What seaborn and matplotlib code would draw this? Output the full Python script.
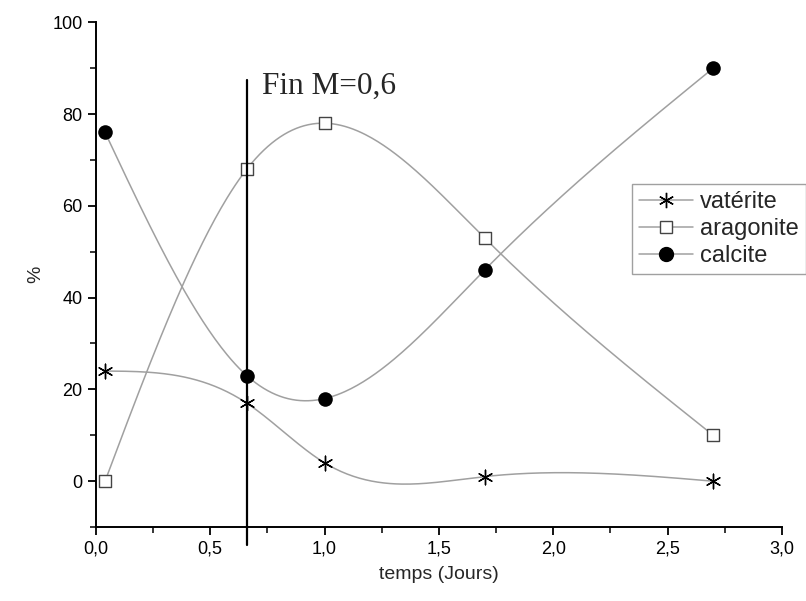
import numpy as np
import pandas as pd
import seaborn as sns
import matplotlib
matplotlib.use("Agg")
import matplotlib.pyplot as plt
from matplotlib.lines import Line2D
from matplotlib.ticker import MultipleLocator, FuncFormatter

# données
temps = [0.04, 0.66, 1.0, 1.7, 2.7]
vaterite = [24, 17, 4, 1, 0]
aragonite = [0, 68, 78, 53, 10]
calcite = [76, 23, 18, 46, 90]

fin_x = 0.66
fin_label = "Fin M=0,6"


def spline_naturelle(x, y, n=300):
    # spline cubique naturelle (comme la connexion "spline" d'Origin)
    x = np.asarray(x, float)
    y = np.asarray(y, float)
    k = len(x)
    h = np.diff(x)
    A = np.zeros((k, k))
    b = np.zeros(k)
    A[0, 0] = A[-1, -1] = 1
    for i in range(1, k - 1):
        A[i, i - 1] = h[i - 1]
        A[i, i] = 2 * (h[i - 1] + h[i])
        A[i, i + 1] = h[i]
        b[i] = 6 * ((y[i + 1] - y[i]) / h[i] - (y[i] - y[i - 1]) / h[i - 1])
    M = np.linalg.solve(A, b)
    xs = np.linspace(x[0], x[-1], n)
    idx = np.clip(np.searchsorted(x, xs) - 1, 0, k - 2)
    x0, x1 = x[idx], x[idx + 1]
    hh = x1 - x0
    ys = (M[idx] * (x1 - xs) ** 3 / (6 * hh) + M[idx + 1] * (xs - x0) ** 3 / (6 * hh)
          + (y[idx] / hh - M[idx] * hh / 6) * (x1 - xs)
          + (y[idx + 1] / hh - M[idx + 1] * hh / 6) * (xs - x0))
    return xs, ys


sns.set_theme(style="ticks")
plt.rcParams['font.family'] = ['Liberation Sans', 'DejaVu Sans']

fig = plt.figure(figsize=(8.06, 6.01), dpi=100)
ax = fig.add_axes([0.119, 0.123, 0.851, 0.840])

series = {"vatérite": vaterite, "aragonite": aragonite, "calcite": calcite}
styles = {
    "vatérite": dict(marker=(6, 2, 0), s=110, color="black", linewidth=1.0),
    "aragonite": dict(marker="s", s=75, facecolor="white", edgecolor="#444444", linewidth=1.0),
    "calcite": dict(marker="o", s=110, color="black", linewidth=0),
}

for nom, vals in series.items():
    xs, ys = spline_naturelle(temps, vals)
    sns.lineplot(x=xs, y=ys, ax=ax, color="#a0a0a0", linewidth=1.1, zorder=2)
    df = pd.DataFrame({"temps": temps, "pct": vals})
    sns.scatterplot(data=df, x="temps", y="pct", ax=ax, zorder=3, **styles[nom])

# ligne verticale "Fin M=0,6"
ax.plot([fin_x, fin_x], [-13.8, 87.5], color="black", linewidth=1.6, clip_on=False, zorder=4)
ax.text(fin_x + 0.065, 84.5, fin_label, fontsize=22.5, family=['Liberation Serif', 'DejaVu Serif'],
        ha="left", va="baseline")

ax.set_xlim(0, 3.0)
ax.set_ylim(-10, 100)
ax.xaxis.set_major_locator(MultipleLocator(0.5))
ax.xaxis.set_minor_locator(MultipleLocator(0.25))
ax.yaxis.set_major_locator(MultipleLocator(20))
ax.yaxis.set_minor_locator(MultipleLocator(10))
ax.xaxis.set_major_formatter(FuncFormatter(lambda v, p: f"{v:.1f}".replace(".", ",")))
ax.yaxis.set_major_formatter(FuncFormatter(lambda v, p: f"{v:.0f}"))
ax.tick_params(which="major", direction="out", length=6, width=1.3, labelsize=13, colors="black")
ax.tick_params(which="minor", direction="out", length=4, width=1.3)
for cote in ["top", "right"]:
    ax.spines[cote].set_visible(False)
for cote in ["left", "bottom"]:
    ax.spines[cote].set_linewidth(1.4)
    ax.spines[cote].set_color("black")

ax.set_xlabel("temps (Jours)", fontsize=14, labelpad=6)
ax.set_ylabel("%", fontsize=14, labelpad=6)

handles = [
    Line2D([], [], color="#a0a0a0", lw=1.1, marker=(6, 2, 0), ms=11, mec="black", mew=1.0),
    Line2D([], [], color="#a0a0a0", lw=1.1, marker="s", ms=8, mfc="white", mec="#444444", mew=1.0),
    Line2D([], [], color="#a0a0a0", lw=1.1, marker="o", ms=10, mfc="black", mec="black"),
]
leg = fig.legend(handles, list(series.keys()), loc="upper left", bbox_to_anchor=(0.784, 0.694),
                 frameon=True, fancybox=False, fontsize=17, handlelength=2.3,
                 borderpad=0.3, labelspacing=0.22, handletextpad=0.3, borderaxespad=0)
leg.get_frame().set_edgecolor("#888888")
leg.get_frame().set_linewidth(1.0)

fig.savefig("out.png", dpi=100)
